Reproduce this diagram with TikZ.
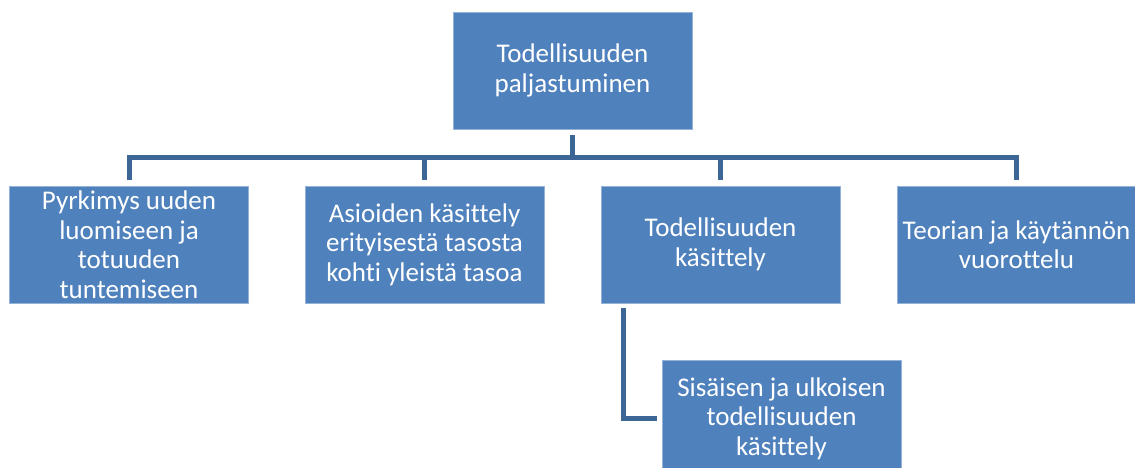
\documentclass[tikz,border=0pt]{standalone}
\usepackage{fontspec}
\setmainfont{Carlito}[Ligatures=CommonOff]
\definecolor{boxblue}{RGB}{79,129,189}
\definecolor{lineblue}{RGB}{60,102,150}
\begin{document}
\begin{tikzpicture}[x=1pt,y=-1pt,
  box/.style={fill=boxblue, draw=boxblue!60!white, line width=0.6pt, text=white, minimum width=239pt, minimum height=117pt,
    inner sep=0pt, align=center, font=\fontsize{27}{29.5}\selectfont},
  conn/.style={draw=lineblue, line width=5pt, line join=miter}]
\useasboundingbox (0,0) rectangle (1135,468);
\node[box] (top) at (572.5,70.5) {Todellisuuden\\paljastuminen};
\node[box] (b1) at (129,244.5) {Pyrkimys uuden\\luomiseen ja\\totuuden\\tuntemiseen};
\node[box] (b2) at (424.5,244.5) {Asioiden käsittely\\erityisestä tasosta\\kohti yleistä tasoa};
\node[box] (b3) at (720.5,244.5) {Todellisuuden\\käsittely};
\node[box] (b4) at (1016.5,244.5) {Teorian ja käytännön\\vuorottelu};
\node[box] (c1) at (781.5,418.5) {Sisäisen ja ulkoisen\\todellisuuden\\käsittely};
\coordinate (bus) at (572.5,157.5);
\draw[conn, shorten <=6pt] (top.south) -- (bus);
\draw[conn, shorten <=6pt, shorten >=6pt] (b1.north) |- (bus) -| (b4.north);
\draw[conn, shorten >=6pt] (bus) -| (b2.north);
\draw[conn, shorten >=6pt] (bus) -| (b3.north);
\draw[conn, shorten <=5pt, shorten >=5pt] ([xshift=22.5pt]b3.south west) |- (c1.west);
\end{tikzpicture}
\end{document}
